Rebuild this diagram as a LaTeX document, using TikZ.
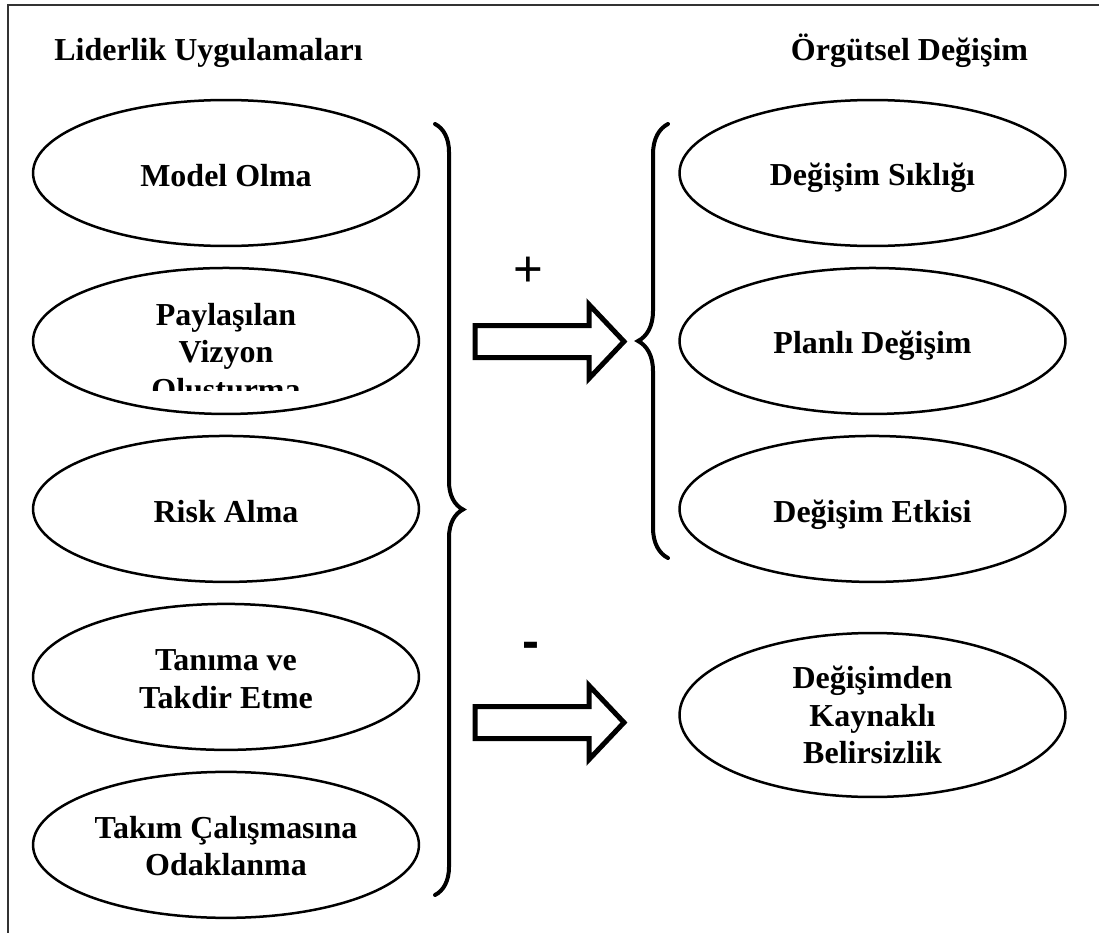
\documentclass[tikz,border=0pt]{standalone}
\usepackage{fontspec}
\setmainfont{Liberation Serif}
\newfontfamily\arialfont{Liberation Sans}
\usetikzlibrary{shapes,decorations.pathreplacing}
\tikzstyle{oval} = [ellipse, draw, line width=0.05cm,
    minimum width=7.72cm, minimum height=2.92cm, inner sep=0pt]
\tikzstyle{lbl} = [font=\fontsize{18.2pt}{21.3pt}\selectfont\bfseries,
    align=center, inner sep=0pt]
\tikzstyle{sgn} = [font=\arialfont\fontsize{29pt}{30pt}\selectfont, inner sep=0pt]
\tikzstyle{sgnb} = [font=\arialfont\bfseries\fontsize{29pt}{30pt}\selectfont, inner sep=0pt]
\tikzstyle{brc} = [decorate, line width=0.08cm, line cap=round]
\tikzstyle{fat} = [line width=0.1cm, miter limit=10]

\begin{document}
\begin{tikzpicture}[x=0.02cm,y=-0.02cm,node distance=3.36cm]
  \useasboundingbox (0,0) rectangle (1099,933);
  \draw[black!80,line width=0.04cm] (8,933) -- (8,5) -- (1099,5);

  \node[lbl,anchor=base] (LU) at (208.5,60) {Liderlik Uygulamaları};
  \node[lbl,anchor=base] (OD) at (909.5,60) {Örgütsel Değişim};

  % left column
  \node[oval] (M) at (226,173) {};
  \node[oval] (P) [below of=M] {};
  \node[oval] (R) [below of=P] {};
  \node[oval] (T) [below of=R] {};
  \node[oval] (K) [below of=T] {};

  \node[lbl,anchor=base] (Mt) at (226,186) {Model Olma};
  \begin{scope}
    \clip (30,260) rectangle (425,390);
    \node[lbl] (Pt) at (226,355) {Paylaşılan\\Vizyon\\Oluşturma};
  \end{scope}
  \node[lbl,anchor=base] (Rt) at (226,522) {Risk Alma};
  \node[lbl] (Tt) at (226,679) {Tanıma ve\\Takdir Etme};
  \node[lbl] (Kt) at (226,846) {Takım Çalışmasına\\Odaklanma};

  % right column
  \node[oval] (S) at (872.5,173) {};
  \node[oval] (PD) [below of=S] {};
  \node[oval] (E) [below of=PD] {};
  \node[oval,minimum height=3.28cm] (B) at (872.5,715) {};

  \node[lbl,anchor=base] (St) at (872.5,185) {Değişim Sıklığı};
  \node[lbl,anchor=base] (PDt) at (872.5,353) {Planlı Değişim};
  \node[lbl,anchor=base] (Et) at (872.5,522) {Değişim Etkisi};
  \node[lbl] (Bt) at (B) {Değişimden\\Kaynaklı\\Belirsizlik};

  % braces
  \draw[brc,decoration={brace,amplitude=0.56cm}] (435,124) -- (435,895);
  \draw[brc,decoration={brace,amplitude=0.6cm}] (668,558) -- (668,124);

  % arrows
  \coordinate (up) at (475,341.5);
  \coordinate (dn) at (475,722.5);
  \draw[fat] (up) ++(0,-16) -- ++(114,0) -- ++(0,-21) -- ++(35,37)
    -- ++(-35,37) -- ++(0,-21) -- ++(-114,0) -- cycle;
  \draw[fat] (dn) ++(0,-16) -- ++(114,0) -- ++(0,-21) -- ++(35,37)
    -- ++(-35,37) -- ++(0,-21) -- ++(-114,0) -- cycle;

  \node[sgn] (plus) at (528,272) {+};
  \node[sgnb] (minus) at (531,650) {-};
\end{tikzpicture}
\end{document}
